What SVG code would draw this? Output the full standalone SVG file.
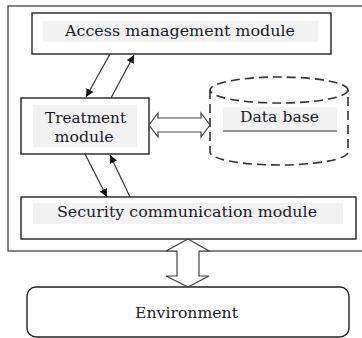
<svg xmlns="http://www.w3.org/2000/svg" width="362" height="338" viewBox="0 0 362 338">
<defs>
<style>
.box{fill:#fff;stroke:#222;stroke-width:1.4}
.band{fill:#f2f2f2}
.lbl{font-family:"DejaVu Serif","Liberation Serif",serif;font-size:14.5px;fill:#1a1a28;text-anchor:middle}
.thin{stroke:#333;stroke-width:1.2;fill:none;marker-end:url(#ah)}
.block{fill:#fff;stroke:#444;stroke-width:1.2;stroke-linejoin:miter}
.dash{fill:#fff;stroke:#333;stroke-width:1.6;stroke-dasharray:9 5}
</style>
<marker id="ah" viewBox="0 0 10 10" refX="10" refY="5" markerWidth="8" markerHeight="8" markerUnits="userSpaceOnUse" orient="auto">
<path d="M0,0 L10,5 L0,10 z" fill="#111"/>
</marker>
</defs>
<rect width="362" height="338" fill="#fff"/>
<g id="frame"><rect x="8" y="6" width="360" height="245" fill="none" stroke="#333" stroke-width="1.2"/></g>
<g id="access">
<rect class="box" x="32" y="13" width="299" height="41"/>
<rect class="band" x="43" y="21" width="275" height="21"/>
<text class="lbl" x="180" y="36" textLength="230" lengthAdjust="spacingAndGlyphs">Access management module</text>
</g>
<g id="treatment">
<rect class="box" x="21" y="98" width="128" height="56"/>
<rect class="band" x="33" y="105" width="104" height="42"/>
<text class="lbl" x="85.5" y="123" textLength="81" lengthAdjust="spacingAndGlyphs">Treatment</text>
<text class="lbl" x="84" y="142" textLength="59" lengthAdjust="spacingAndGlyphs">module</text>
</g>
<g id="database">
<path class="dash" d="M210,90 L210,152 A69,13 0 0 0 348,152 L348,90"/>
<ellipse class="dash" cx="279" cy="90" rx="69" ry="13"/>
<rect class="band" x="223" y="107" width="114" height="23"/>
<text class="lbl" x="279.5" y="122" textLength="79" lengthAdjust="spacingAndGlyphs">Data base</text>
<line x1="223" y1="131" x2="337" y2="131" stroke="#222" stroke-width="1.2"/>
</g>
<g id="security">
<rect class="box" x="21" y="197" width="335" height="42"/>
<rect class="band" x="33" y="203" width="310" height="21"/>
<text class="lbl" x="187" y="217" textLength="260" lengthAdjust="spacingAndGlyphs">Security communication module</text>
</g>
<g id="environment">
<rect class="box" x="27" y="287" width="322" height="50" rx="9" ry="9"/>
<text class="lbl" x="186.5" y="318" textLength="103" lengthAdjust="spacingAndGlyphs">Environment</text>
</g>
<g id="connectors">
<line class="thin" x1="110" y1="54" x2="86" y2="97"/>
<line class="thin" x1="111" y1="98" x2="134" y2="55"/>
<line class="thin" x1="85" y1="154" x2="107" y2="197"/>
<line class="thin" x1="130" y1="197" x2="110" y2="155"/>
<path class="block" d="M149,125 L158,113 L158,118 L201,118 L201,113 L210,125 L201,137 L201,132 L158,132 L158,137 Z"/>
<path class="block" d="M188,239 L209,251 L199,251 L199,276 L209,276 L188,287 L166,276 L177,276 L177,251 L166,251 Z"/>
</g>
</svg>
